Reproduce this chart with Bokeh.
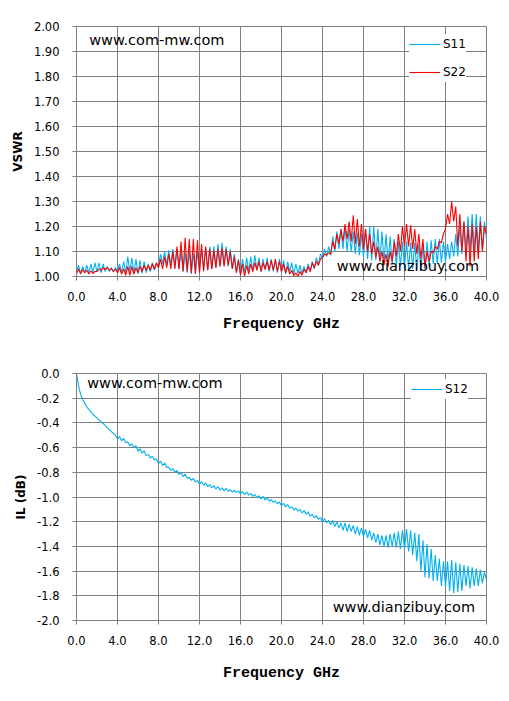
from bokeh.plotting import figure
from bokeh.models import Range1d, FixedTicker, NumeralTickFormatter, Label, Legend, LegendItem
from bokeh.layouts import column
from bokeh.embed import file_html
from bokeh.resources import INLINE
import numpy as np

# sweep frequencies (GHz), 0.2 GHz step
freq = np.round(np.arange(201) * 0.2, 1)

s11 = [
    1.02, 1.045, 1.01, 1.04, 1.015,
    1.045, 1.012, 1.05, 1.015, 1.055,
    1.018, 1.055, 1.015, 1.05, 1.02,
    1.04, 1.02, 1.035, 1.018, 1.035,
    1.02, 1.05, 1.015, 1.06, 1.015,
    1.08, 1.02, 1.075, 1.012, 1.07,
    1.01, 1.065, 1.012, 1.06, 1.015,
    1.05, 1.02, 1.055, 1.025, 1.05,
    1.045, 1.09, 1.05, 1.10, 1.045,
    1.105, 1.045, 1.11, 1.04, 1.11,
    1.03, 1.10, 1.02, 1.095, 1.015,
    1.10, 1.01, 1.09, 1.015, 1.10,
    1.02, 1.11, 1.03, 1.115, 1.025,
    1.12, 1.03, 1.12, 1.035, 1.13,
    1.04, 1.135, 1.045, 1.12, 1.04,
    1.11, 1.03, 1.09, 1.015, 1.07,
    1.01, 1.07, 1.015, 1.075, 1.02,
    1.08, 1.02, 1.085, 1.025, 1.075,
    1.02, 1.07, 1.025, 1.075, 1.02,
    1.07, 1.02, 1.065, 1.015, 1.07,
    1.015, 1.065, 1.01, 1.06, 1.02,
    1.055, 1.01, 1.05, 1.012, 1.045,
    1.01, 1.04, 1.015, 1.05, 1.02,
    1.06, 1.03, 1.075, 1.045, 1.09,
    1.07, 1.11, 1.08, 1.12, 1.085,
    1.16, 1.10, 1.18, 1.11, 1.19,
    1.11, 1.20, 1.10, 1.19, 1.10,
    1.18, 1.09, 1.175, 1.085, 1.17,
    1.08, 1.19, 1.07, 1.20, 1.065,
    1.20, 1.065, 1.19, 1.06, 1.18,
    1.055, 1.17, 1.05, 1.16, 1.045,
    1.15, 1.04, 1.14, 1.04, 1.14,
    1.035, 1.14, 1.03, 1.135, 1.03,
    1.135, 1.025, 1.13, 1.025, 1.13,
    1.03, 1.14, 1.04, 1.145, 1.05,
    1.15, 1.05, 1.15, 1.055, 1.14,
    1.06, 1.13, 1.07, 1.14, 1.08,
    1.17, 1.08, 1.20, 1.09, 1.22,
    1.10, 1.24, 1.10, 1.25, 1.10,
    1.25, 1.10, 1.24, 1.11, 1.22,
    1.15,
]

s22 = [
    1.01, 1.03, 1.012, 1.028, 1.015,
    1.025, 1.01, 1.022, 1.012, 1.02,
    1.02, 1.03, 1.025, 1.035, 1.028,
    1.035, 1.025, 1.032, 1.02, 1.03,
    1.015, 1.035, 1.01, 1.03, 1.005,
    1.04, 1.005, 1.04, 1.01, 1.035,
    1.015, 1.04, 1.02, 1.045, 1.025,
    1.045, 1.025, 1.05, 1.03, 1.055,
    1.035, 1.07, 1.03, 1.08, 1.035,
    1.09, 1.03, 1.10, 1.03, 1.12,
    1.03, 1.14, 1.02, 1.155, 1.02,
    1.15, 1.015, 1.15, 1.01, 1.145,
    1.015, 1.13, 1.02, 1.12, 1.025,
    1.11, 1.03, 1.105, 1.035, 1.11,
    1.04, 1.115, 1.04, 1.11, 1.045,
    1.10, 1.03, 1.08, 1.015, 1.065,
    1.005, 1.05, 1.0, 1.045, 1.01,
    1.05, 1.02, 1.055, 1.025, 1.06,
    1.02, 1.055, 1.03, 1.06, 1.025,
    1.065, 1.025, 1.07, 1.02, 1.06,
    1.02, 1.05, 1.015, 1.04, 1.01,
    1.025, 1.003, 1.015, 1.0, 1.02,
    1.005, 1.03, 1.015, 1.04, 1.02,
    1.055, 1.035, 1.06, 1.045, 1.07,
    1.075, 1.09, 1.085, 1.095, 1.09,
    1.14, 1.11, 1.17, 1.13, 1.19,
    1.14, 1.21, 1.15, 1.22, 1.14,
    1.245, 1.13, 1.23, 1.12, 1.21,
    1.11, 1.19, 1.10, 1.17, 1.09,
    1.14, 1.075, 1.12, 1.06, 1.10,
    1.045, 1.09, 1.04, 1.10, 1.06,
    1.14, 1.08, 1.17, 1.10, 1.20,
    1.12, 1.21, 1.12, 1.205, 1.11,
    1.19, 1.09, 1.17, 1.07, 1.15,
    1.035, 1.10, 1.06, 1.10, 1.095,
    1.12, 1.11, 1.14, 1.135, 1.17,
    1.19, 1.25, 1.21, 1.30, 1.22,
    1.28, 1.12, 1.25, 1.10, 1.22,
    1.06, 1.20, 1.04, 1.21, 1.06,
    1.20, 1.07, 1.22, 1.10, 1.20,
    1.17,
]

s12 = [
    0.0, -0.10, -0.17, -0.21, -0.24,
    -0.27, -0.29, -0.31, -0.33, -0.345,
    -0.36, -0.375, -0.39, -0.405, -0.42,
    -0.44, -0.455, -0.47, -0.485, -0.50,
    -0.53, -0.51, -0.545, -0.525, -0.56,
    -0.555, -0.585, -0.57, -0.60, -0.585,
    -0.63, -0.61, -0.645, -0.625, -0.665,
    -0.655, -0.685, -0.67, -0.70, -0.69,
    -0.73, -0.71, -0.745, -0.725, -0.76,
    -0.76, -0.785, -0.77, -0.80, -0.785,
    -0.82, -0.80, -0.835, -0.815, -0.85,
    -0.84, -0.865, -0.85, -0.88, -0.865,
    -0.895, -0.875, -0.905, -0.885, -0.915,
    -0.90, -0.925, -0.91, -0.935, -0.915,
    -0.945, -0.925, -0.95, -0.93, -0.955,
    -0.94, -0.96, -0.945, -0.965, -0.95,
    -0.975, -0.955, -0.98, -0.96, -0.985,
    -0.97, -0.995, -0.98, -1.005, -0.99,
    -1.015, -0.995, -1.025, -1.005, -1.035,
    -1.02, -1.045, -1.03, -1.055, -1.04,
    -1.07, -1.05, -1.08, -1.06, -1.09,
    -1.08, -1.105, -1.09, -1.115, -1.10,
    -1.13, -1.11, -1.14, -1.12, -1.155,
    -1.14, -1.17, -1.15, -1.18, -1.165,
    -1.20, -1.175, -1.21, -1.19, -1.225,
    -1.19, -1.24, -1.20, -1.25, -1.21,
    -1.27, -1.21, -1.28, -1.22, -1.28,
    -1.23, -1.30, -1.24, -1.31, -1.25,
    -1.32, -1.26, -1.33, -1.27, -1.35,
    -1.29, -1.37, -1.30, -1.39, -1.31,
    -1.40, -1.31, -1.41, -1.30, -1.40,
    -1.29, -1.41, -1.28, -1.42, -1.27,
    -1.42, -1.26, -1.44, -1.27, -1.47,
    -1.29, -1.52, -1.30, -1.60, -1.35,
    -1.65, -1.38, -1.66, -1.42, -1.68,
    -1.47, -1.68, -1.50, -1.72, -1.52,
    -1.73, -1.52, -1.76, -1.51, -1.78,
    -1.53, -1.77, -1.54, -1.76, -1.55,
    -1.72, -1.56, -1.74, -1.57, -1.72,
    -1.58, -1.72, -1.59, -1.70, -1.61,
    -1.67,
]

x_ticks = [0, 4, 8, 12, 16, 20, 24, 28, 32, 36, 40]
vswr_ticks = [1.0, 1.1, 1.2, 1.3, 1.4, 1.5, 1.6, 1.7, 1.8, 1.9, 2.0]
il_ticks = [-2.0, -1.8, -1.6, -1.4, -1.2, -1.0, -0.8, -0.6, -0.4, -0.2, 0.0]

BLUE = "#00B0F0"
RED = "#FF0000"
GRID = "#808080"
TICK_FONT = "DejaVu Sans"


def style(p, yticks, yfmt, ylabel, label_standoff_x):
    p.xaxis.ticker = FixedTicker(ticks=x_ticks)
    p.yaxis.ticker = FixedTicker(ticks=yticks)
    p.xaxis.formatter = NumeralTickFormatter(format="0.0")
    p.yaxis.formatter = NumeralTickFormatter(format=yfmt)
    for ax in (p.xaxis, p.yaxis):
        ax.axis_line_color = GRID
        ax.major_tick_line_color = GRID
        ax.major_tick_out = 4
        ax.major_tick_in = 0
        ax.minor_tick_line_color = None
        ax.major_label_text_font = TICK_FONT
        ax.major_label_text_font_size = "11.5px"
        ax.major_label_text_color = "#000000"
    p.xaxis.major_label_standoff = 11
    p.yaxis.major_label_standoff = 13
    p.xaxis.axis_label = "Frequency GHz"
    p.xaxis.axis_label_text_font = "Liberation Mono"
    p.xaxis.axis_label_text_font_style = "bold"
    p.xaxis.axis_label_text_font_size = "15px"
    p.xaxis.axis_label_text_color = "#000000"
    p.xaxis.axis_label_standoff = label_standoff_x
    p.yaxis.axis_label = ylabel
    p.yaxis.axis_label_text_font = "DejaVu Sans"
    p.yaxis.axis_label_text_font_style = "bold"
    p.yaxis.axis_label_text_font_size = "12px"
    p.yaxis.axis_label_text_color = "#000000"
    p.yaxis.axis_label_standoff = 6
    p.xgrid.grid_line_color = GRID
    p.ygrid.grid_line_color = GRID
    p.xgrid.grid_line_alpha = 1.0
    p.ygrid.grid_line_alpha = 1.0
    p.outline_line_color = GRID
    p.outline_line_alpha = 1.0


def make_legend(items, loc):
    lg = Legend(items=items, location=loc)
    lg.border_line_color = None
    lg.background_fill_color = "white"
    lg.background_fill_alpha = 1.0
    lg.glyph_width = 31
    lg.glyph_height = 20
    lg.label_height = 20
    lg.label_standoff = 3
    lg.spacing = 8
    lg.padding = 6
    lg.margin = 0
    lg.label_text_font = TICK_FONT
    lg.label_text_font_size = "12px"
    lg.label_text_color = "#000000"
    return lg


def wm(p, text, x, y):
    p.add_layout(Label(x=x, y=y, text=text, text_font="DejaVu Sans",
                       text_font_size="14.5px", text_color="#000000",
                       text_baseline="middle", text_align="left"))


# ---------- top: VSWR ----------
p1 = figure(frame_width=410, frame_height=250, output_backend="svg",
            toolbar_location=None, x_range=Range1d(0, 40), y_range=Range1d(1.0, 2.0),
            min_border_left=76, min_border_right=15, min_border_top=26,
            min_border_bottom=67)
style(p1, vswr_ticks, "0.00", "VSWR", 12)
r11 = p1.line(freq, s11, line_color=BLUE, line_width=1.1)
r22 = p1.line(freq, s22, line_color=RED, line_width=1.1)
p1.add_layout(make_legend([LegendItem(label="S11", renderers=[r11]),
                           LegendItem(label="S22", renderers=[r22])], (333, 194)))
wm(p1, "www.com-mw.com", 1.24, 1.948)
wm(p1, "www.dianzibuy.com", 25.4, 1.044)

# ---------- bottom: IL ----------
p2 = figure(frame_width=410, frame_height=247, output_backend="svg",
            toolbar_location=None, x_range=Range1d(0, 40), y_range=Range1d(-2.0, 0.0),
            min_border_left=76, min_border_right=15, min_border_top=30,
            min_border_bottom=72)
style(p2, il_ticks, "0.0", "IL (dB)", 17)
r12 = p2.line(freq, s12, line_color=BLUE, line_width=1.1)
p2.add_layout(make_legend([LegendItem(label="S12", renderers=[r12])], (335, 221)))
wm(p2, "www.com-mw.com", 1.05, -0.079)
wm(p2, "www.dianzibuy.com", 25.0, -1.89)

layout = column(p1, p2, spacing=0)
open("out.html", "w").write(file_html(layout, INLINE))
